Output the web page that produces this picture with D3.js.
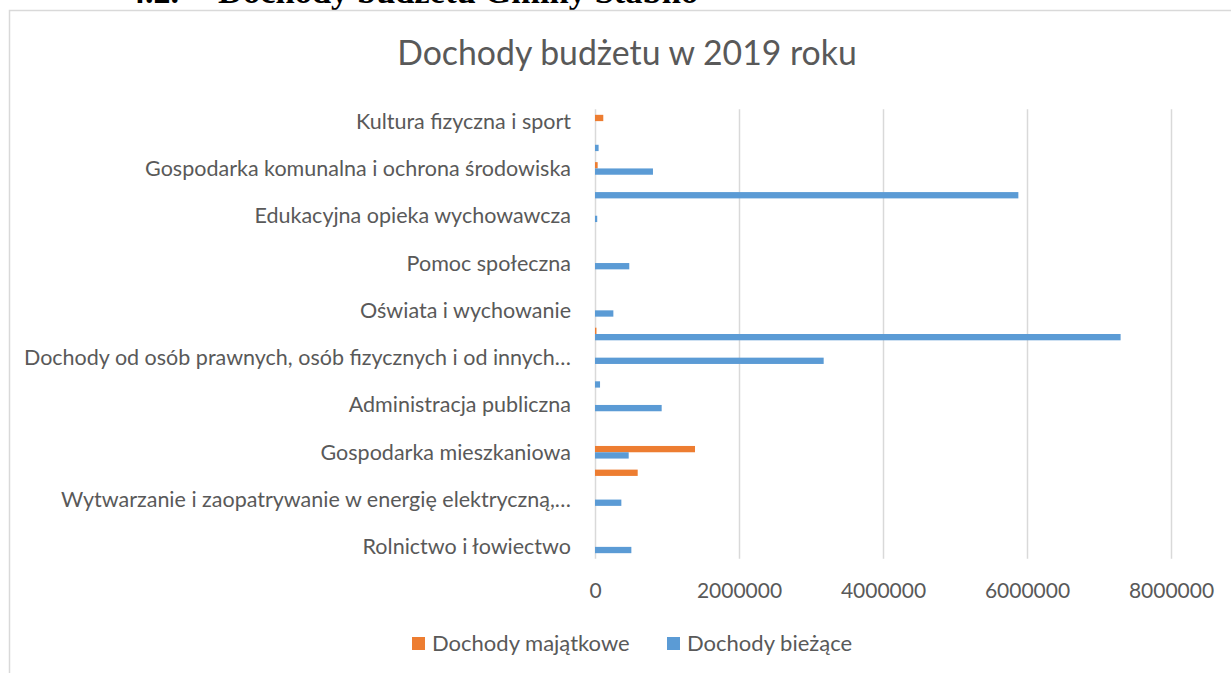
<!DOCTYPE html>
<html>
<head>
<meta charset="utf-8">
<script src="https://cdn.jsdelivr.net/npm/d3@7/dist/d3.min.js"></script>
<style>
  html,body{margin:0;padding:0;background:#fff;}
  svg{display:block;}
</style>
</head>
<body>
<div id="chart"></div>
<script>
// Dochody budżetu w 2019 roku — horizontal grouped bars
const categories = [
  'Rolnictwo i łowiectwo',
  'Leśnictwo',
  'Wytwarzanie i zaopatrywanie w energię elektryczną, gaz i wodę',
  'Transport i łączność',
  'Gospodarka mieszkaniowa',
  'Działalność usługowa',
  'Administracja publiczna',
  'Bezpieczeństwo publiczne i ochrona przeciwpożarowa',
  'Dochody od osób prawnych, osób fizycznych i od innych jednostek nieposiadających osobowości prawnej oraz wydatki związane z ich poborem',
  'Różne rozliczenia',
  'Oświata i wychowanie',
  'Ochrona zdrowia',
  'Pomoc społeczna',
  'Pozostałe zadania w zakresie polityki społecznej',
  'Edukacyjna opieka wychowawcza',
  'Rodzina',
  'Gospodarka komunalna i ochrona środowiska',
  'Kultura i ochrona dziedzictwa narodowego',
  'Kultura fizyczna i sport'
];
const seriesNames = ['Dochody majątkowe', 'Dochody bieżące'];
const majatkowe = [0, 0, 0, 593000, 1389000, 0, 0, 0, 0, 20000, 0, 0, 0, 0, 0, 0, 37000, 0, 115000];
const biezace   = [505000, 0, 366000, 0, 468000, 0, 926000, 70000, 3176000, 7300000, 255000, 0, 476000, 0, 31000, 5880000, 805000, 50000, 0];
const xTicks = [0, 2000000, 4000000, 6000000, 8000000];
const colors = ['#ED7D31', '#5B9BD5'];

const W = 1231, H = 673;
const FONT = 'Lato, Carlito, Calibri, sans-serif';
const TXT = '#595959';

const svg = d3.select('#chart').append('svg').attr('width', W).attr('height', H);

// page heading (cut off at top, as in the source document) and chart frame
svg.append('text').attr('x', 128).attr('y', 3)
  .style('font-family', '"Liberation Serif", "Times New Roman", serif').style('font-weight', 'bold')
  .style('font-size', '34px').style('fill', '#000').text('4.2.');
svg.append('text').attr('x', 218).attr('y', 3)
  .style('font-family', '"Liberation Serif", "Times New Roman", serif').style('font-weight', 'bold')
  .style('font-size', '34.5px').style('fill', '#000').text('Dochody budżetu Gminy Stabno');
svg.append('path').attr('d', `M9.5,${H} V10.5 H${W}`)
  .attr('fill', 'none').attr('stroke', '#D9D9D9').attr('stroke-width', 1.5);

// title
svg.append('text').attr('x', 627).attr('y', 65).attr('text-anchor', 'middle')
  .style('font-family', FONT).style('font-size', '33.8px').style('fill', TXT)
  .text('Dochody budżetu w 2019 roku');

const pTop = 109.3, pBot = 558.7;
const x = d3.scaleLinear().domain([0, 8000000]).range([595, 1171]);
const y = d3.scaleBand().domain(categories).range([pBot, pTop]).paddingInner(0.467).paddingOuter(0.2335);
const ys = d3.scaleBand().domain(seriesNames).range([0, y.bandwidth()]);

// grid lines
svg.append('g').attr('transform', `translate(0,${pBot})`)
  .call(d3.axisBottom(x).tickValues(xTicks).tickSize(-(pBot - pTop)).tickFormat(''))
  .call(g => g.select('.domain').remove())
  .call(g => g.selectAll('line').style('stroke', '#D9D9D9').style('stroke-width', '1.5'));

// x tick labels
svg.append('g').attr('transform', `translate(0,${pBot})`)
  .call(d3.axisBottom(x).tickValues(xTicks).tickSize(0).tickFormat(d3.format('d')))
  .call(g => g.select('.domain').remove())
  .call(g => g.selectAll('text').attr('y', 39).attr('dy', 0)
    .style('font-family', FONT).style('font-size', '21px').style('fill', TXT));

// bars
const rows = categories.map((c, i) => ({cat: c, vals: [majatkowe[i], biezace[i]]}));
const grp = svg.append('g').selectAll('g').data(rows).join('g')
  .attr('transform', d => `translate(0,${y(d.cat)})`);
grp.selectAll('rect').data(d => d.vals.map((v, k) => ({k, v}))).join('rect')
  .attr('x', x(0))
  .attr('y', d => ys(seriesNames[d.k]))
  .attr('height', ys.bandwidth())
  .attr('width', d => x(d.v) - x(0))
  .attr('fill', d => colors[d.k]);

// category labels: every second one shown, long ones cut at a word boundary
const MAXCH = 53;
function shorten(s) {
  if (s.length <= MAXCH) return s;
  const words = s.split(' ');
  let out = '';
  for (const w of words) {
    const next = out ? out + ' ' + w : w;
    if (next.length > MAXCH) break;
    out = next;
  }
  return out + '…';
}
svg.append('g').attr('transform', 'translate(571,0)')
  .call(d3.axisLeft(y).tickSize(0).tickPadding(0)
    .tickFormat((d, i) => i % 2 === 0 ? shorten(d) : ''))
  .call(g => g.select('.domain').remove())
  .call(g => g.selectAll('text').attr('dy', '0.35em')
    .style('font-family', FONT).style('font-size', '21.5px').style('fill', TXT));

// legend
const legX = [412, 667];
const leg = svg.append('g').selectAll('g').data(seriesNames).join('g')
  .attr('transform', (d, i) => `translate(${legX[i]},637)`);
leg.append('rect').attr('width', 13).attr('height', 13).attr('fill', (d, i) => colors[i]);
leg.append('text').attr('x', 20).attr('y', 14)
  .style('font-family', FONT).style('font-size', '22px').style('fill', TXT)
  .text(d => d);
</script>
</body>
</html>
